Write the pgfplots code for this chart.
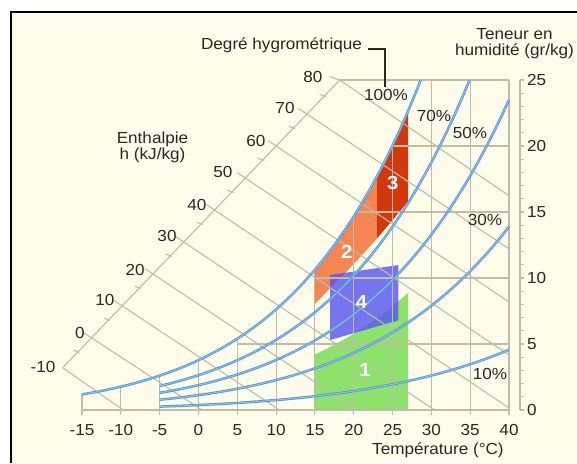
\documentclass[border=0pt]{standalone}
\usepackage{fontspec}
\setmainfont{Liberation Sans}[FakeStretch=1.07]
\usepackage{pgfplots}
\usepackage{pgfplotstable}
\pgfplotsset{compat=1.18}
\definecolor{cream}{RGB}{253,251,233}
\definecolor{gridc}{RGB}{192,188,168}
\definecolor{curvec}{RGB}{86,150,210}
\definecolor{curvel}{RGB}{150,196,236}
\definecolor{zgreen}{RGB}{142,226,108}
\definecolor{zorange}{RGB}{245,134,84}
\definecolor{zred}{RGB}{210,56,12}
\definecolor{zblue}{RGB}{84,84,242}
\definecolor{txt}{RGB}{40,40,40}

% saturation (100%) curve: T (degC), w (g/kg)
\pgfplotstableread{
T w
-15 1.1788
-14 1.2797
-13 1.3883
-12 1.5051
-11 1.6306
-10 1.7654
-9 1.9101
-8 2.0653
-7 2.2316
-6 2.4099
-5 2.6007
-4 2.8050
-3 3.0236
-2 3.2571
-1 3.5066
0 3.7731
1 4.0575
2 4.3609
3 4.6844
4 5.0292
5 5.3967
6 5.7877
7 6.2040
8 6.6468
9 7.1179
10 7.6186
11 8.1507
12 8.7152
13 9.3149
14 9.9513
15 10.6266
16 11.3427
17 12.1019
18 12.9063
19 13.7587
20 14.6616
21 15.6178
22 16.6298
23 17.7012
24 18.8344
25 20.0335
26 21.3016
27 22.6422
28 24.0595
28.63 25
}\sat

\pgfplotstableread{
T w
-5 1.8182
-4 1.9608
-3 2.1134
-2 2.2764
-1 2.4505
0 2.6364
1 2.8347
2 3.0462
3 3.2717
4 3.5120
5 3.7678
6 4.0402
7 4.3298
8 4.6380
9 4.9656
10 5.3135
11 5.6831
12 6.0752
13 6.4913
14 6.9326
15 7.4007
16 7.8967
17 8.4221
18 8.9785
19 9.5676
20 10.1910
21 10.8507
22 11.5482
23 12.2860
24 13.0656
25 13.8892
26 14.7596
27 15.6783
28 16.6489
29 17.6728
30 18.7537
31 19.8940
32 21.0973
33 22.3652
34 23.7030
34.92 25
}\rhseventy

\pgfplotstableread{
T w
-5 1.2977
-4 1.3993
-3 1.5081
-2 1.6243
-1 1.7484
0 1.8809
1 2.0222
2 2.1729
3 2.3334
4 2.5045
5 2.6867
6 2.8805
7 3.0866
8 3.3058
9 3.5388
10 3.7861
11 4.0488
12 4.3273
13 4.6229
14 4.9362
15 5.2683
16 5.6201
17 5.9927
18 6.3869
19 6.8041
20 7.2454
21 7.7121
22 8.2052
23 8.7264
24 9.2769
25 9.8579
26 10.4716
27 11.1188
28 11.8016
29 12.5219
30 13.2811
31 14.0813
32 14.9248
33 15.8128
34 16.7484
35 17.7335
36 18.7706
37 19.8621
38 21.0108
39 22.2193
40 23.4900
}\rhfifty

\pgfplotstableread{
T w
-5 0.7779
-4 0.8388
-3 0.9040
-2 0.9736
-1 1.0479
0 1.1271
1 1.2117
2 1.3019
3 1.3980
4 1.5003
5 1.6092
6 1.7251
7 1.8483
8 1.9792
9 2.1184
10 2.2662
11 2.4230
12 2.5892
13 2.7655
14 2.9523
15 3.1503
16 3.3599
17 3.5818
18 3.8165
19 4.0646
20 4.3271
21 4.6045
22 4.8973
23 5.2066
24 5.5330
25 5.8775
26 6.2409
27 6.6239
28 7.0276
29 7.4530
30 7.9012
31 8.3730
32 8.8698
33 9.3922
34 9.9418
35 10.5201
36 11.1280
37 11.7670
38 12.4383
39 13.1437
40 13.8843
}\rhthirty

\pgfplotstableread{
T w
-5 0.2591
-4 0.2794
-3 0.3010
-2 0.3242
-1 0.3489
0 0.3753
1 0.4034
2 0.4334
3 0.4653
4 0.4993
5 0.5355
6 0.5740
7 0.6149
8 0.6583
9 0.7045
10 0.7536
11 0.8056
12 0.8607
13 0.9191
14 0.9810
15 1.0466
16 1.1160
17 1.1894
18 1.2670
19 1.3490
20 1.4357
21 1.5273
22 1.6239
23 1.7259
24 1.8335
25 1.9469
26 2.0665
27 2.1924
28 2.3250
29 2.4647
30 2.6116
31 2.7662
32 2.9288
33 3.0995
34 3.2790
35 3.4675
36 3.6656
37 3.8734
38 4.0915
39 4.3204
40 4.5602
}\rhten

\pgfplotsset{chartaxis/.style={
  at={(82pt,53pt)}, anchor=south west,
  scale only axis, width=427pt, height=330pt,
  xmin=-15, xmax=40, ymin=0, ymax=25,
  hide axis, clip=false}}

\begin{document}
\fontsize{16}{16}\selectfont
\begin{tikzpicture}[x=1pt,y=1pt]
\path[use as bounding box] (0,0) rectangle (577,463);
\fill[white] (0,0) rectangle (577,463);
\fill[cream] (11,0) rectangle (577,450.5);
% ---------- zones ----------
\begin{axis}[chartaxis]
\addplot[draw=none, fill=zgreen] coordinates {(15,0) (15,4.2076) (16,4.4880) (17,4.7849) (18,5.0991) (19,5.4314) (20,5.7828) (21,6.1545) (22,6.5469) (23,6.9616) (24,7.3994) (25,7.8615) (26,8.3491) (27,8.8633) (27,0)} -- cycle;
\addplot[draw=none, fill=zorange] coordinates {(15,8.05) (15,10.6266) (16,11.3427) (17,12.1019) (18,12.9063) (19,13.7587) (20,14.6616) (21,15.6178) (22,16.6298) (23,17.7012) (23,13.0) (21,11.7) (19,10.45) (17,9.25)} -- cycle;
\addplot[draw=none, fill=zred] coordinates {(23,13.0) (23,17.7012) (24,18.8344) (25,20.0335) (26,21.3016) (27,22.6422) (27,15.8) (25,14.38)} -- cycle;
\addplot[draw=none, fill=zblue, fill opacity=0.8] coordinates {(16.96,5.3) (16.96,10.23) (25.76,10.98) (25.76,6.8)} -- cycle;
\end{axis}
% ---------- grid, curves, texts ----------
\begin{axis}[chartaxis,
  rh/.style={curvec, line width=2.5pt},
  rhc/.style={curvel, line width=0.8pt}]
\begin{scope}[gridc, line width=1.1pt]
\draw (-15,-0.35) -- (-15,1.1788);
\draw (-10,-0.35) -- (-10,1.7654);
\draw (-5,-0.35) -- (-5,2.6007);
\draw (0,-0.35) -- (0,3.7731);
\draw (5,-0.35) -- (5,5.3967);
\draw (10,-0.35) -- (10,7.6186);
\draw (15,-0.35) -- (15,10.6266);
\draw (20,-0.35) -- (20,14.6616);
\draw (25,-0.35) -- (25,20.0335);
\draw (30,-0.35) -- (30,25);
\draw (35,-0.35) -- (35,25);
\draw (40,-0.35) -- (40,25);
\draw (-15,0) -- (40,0);
\draw (5,5) -- (40,5);
\draw (15,10) -- (40,10);
\draw (20.35,15) -- (40,15);
\draw (24.97,20) -- (40,20);
\draw (18.2,25) -- (40,25);
% enthalpy diagonal
\draw (-17.5,3.2) -- (18.2,25);
% enthalpy lines
\draw (-17.5,3.2) -- (-9.7,0);
\draw (-14.833,5.872) -- (0.44,0);
\draw (-10.867,8.294) -- (10.42,0);
\draw (-6.9,10.717) -- (20.41,0);
\draw (-2.933,13.139) -- (30.40,0);
\draw (1.033,15.561) -- (40,0.154);
\draw (5.0,17.983) -- (40,4.172);
\draw (8.967,20.406) -- (40,8.191);
\draw (12.933,22.828) -- (40,12.209);
\draw (16.9,25.25) -- (18.2,25) -- (40,16.228);
% minor ticks on the diagonal
\draw (-16.117,4.531) -- (-15.317,4.371);
\draw (-12.15,6.953) -- (-11.35,6.793);
\draw (-8.183,9.376) -- (-7.383,9.216);
\draw (-4.217,11.798) -- (-3.417,11.638);
\draw (-0.25,14.22) -- (0.55,14.06);
\draw (3.717,16.642) -- (4.517,16.482);
\draw (7.683,19.064) -- (8.483,18.904);
\draw (11.65,21.487) -- (12.45,21.327);
\draw (15.617,23.909) -- (16.417,23.749);
% right scale
\draw (41.41,0) -- (41.41,25);
\pgfplotsinvokeforeach{0,...,25}{\draw (41.41,#1) -- (41.95,#1);}
\end{scope}

\addplot[rh] table[x=T,y=w] {\sat};
\addplot[rhc] table[x=T,y=w] {\sat};
\addplot[rh] table[x=T,y=w] {\rhseventy};
\addplot[rhc] table[x=T,y=w] {\rhseventy};
\addplot[rh] table[x=T,y=w] {\rhfifty};
\addplot[rhc] table[x=T,y=w] {\rhfifty};
\addplot[rh] table[x=T,y=w] {\rhthirty};
\addplot[rhc] table[x=T,y=w] {\rhthirty};
\addplot[rh] table[x=T,y=w] {\rhten};
\addplot[rhc] table[x=T,y=w] {\rhten};

\begin{scope}[every node/.style={text=white, font=\fontsize{19}{19}\selectfont\bfseries}]
\node at (21.45,3.03) {1};
\node at (19.09,11.99) {2};
\node at (25.02,17.17) {3};
\node at (21.02,8.2) {4};
\end{scope}

\begin{scope}[every node/.style={text=txt, inner sep=0pt}]
\foreach \t in {-15,-10,-5,0,5,10,15,20,25,30,35,40}{\edef\tmp{\noexpand\node at (\t,-1.52) {\t};}\tmp}
\foreach \v in {0,5,10,15,20,25}{\edef\tmp{\noexpand\node[anchor=west] at (42.3,\v) {\v};}\tmp}
\node at (14.75,25.23) {80};
\node at (11.15,22.88) {70};
\node at (7.41,20.38) {60};
\node at (3.16,18.03) {50};
\node at (-0.19,15.53) {40};
\node at (-4.05,13.18) {30};
\node at (-8.17,10.61) {20};
\node at (-12.04,8.33) {10};
\node at (-15.26,5.83) {0};
\node at (-20.02,3.26) {-10};
\node at (10.70,27.65) {Degré hygrométrique};
\node at (24.16,23.86) {100\%};
\node at (30.34,22.27) {70\%};
\node at (34.97,20.98) {50\%};
\node at (36.91,14.39) {30\%};
\node at (37.55,2.73) {10\%};
\node[align=center] at (40.71,27.77) {Teneur en\\humidité (gr/kg)};
\node[align=center] at (-5.92,19.92) {Enthalpie\\h (kJ/kg)};
\node at (30.85,-3.03) {Température (°C)};
\end{scope}
\draw[txt, line width=1.2pt] (21.84,27.35) -- (24.03,27.35) -- (24.03,24.47);
\end{axis}
\draw[black, line width=2pt] (11,0) -- (11,450.5) -- (577,450.5);
\end{tikzpicture}
\end{document}
